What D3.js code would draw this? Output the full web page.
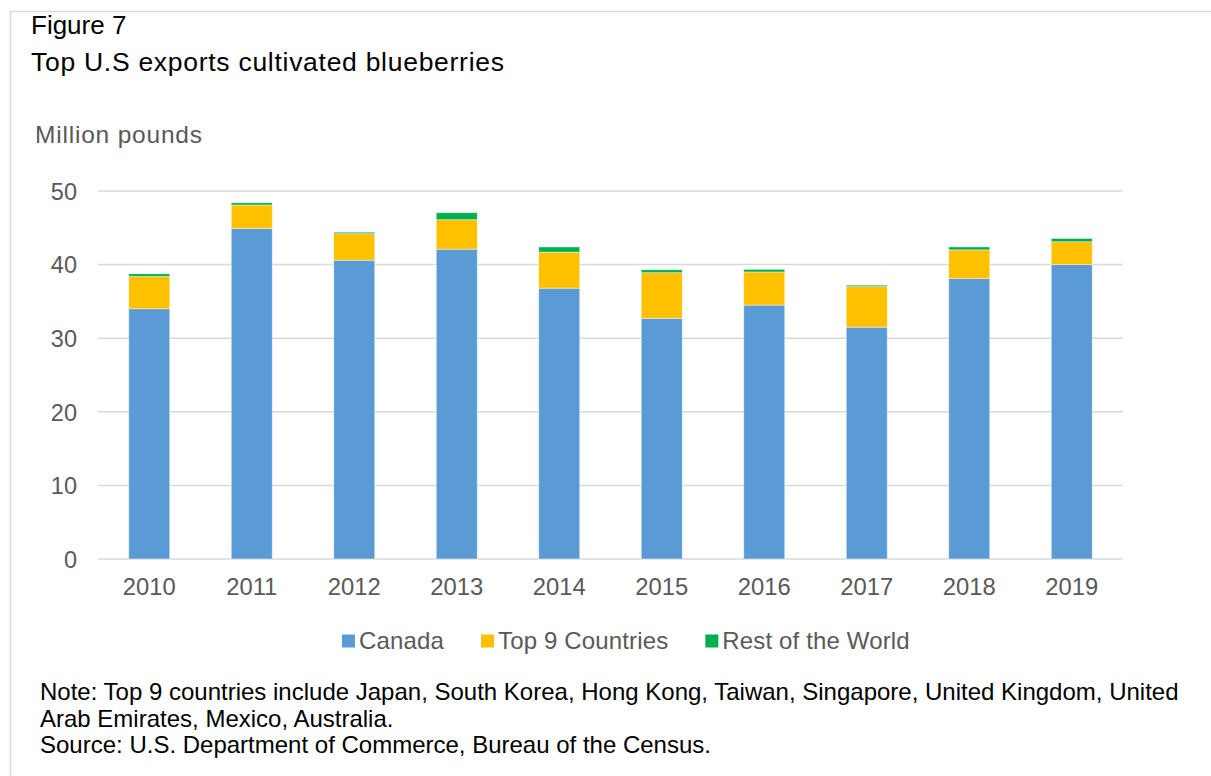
<!DOCTYPE html>
<html>
<head>
<meta charset="utf-8">
<script src="https://cdn.jsdelivr.net/npm/d3@7"></script>
<style>
  html, body { margin: 0; padding: 0; background: #fff; }
  svg { display: block; font-family: "Liberation Sans", Arial, sans-serif; }
</style>
</head>
<body>
<svg id="chart" width="1211" height="776"></svg>
<script>
const years = ["2010","2011","2012","2013","2014","2015","2016","2017","2018","2019"];
const canada = [34.0, 44.9, 40.6, 42.1, 36.8, 32.7, 34.5, 31.5, 38.1, 40.0];
const top9 = [4.4, 3.2, 3.6, 4.0, 4.9, 6.2, 4.5, 5.5, 3.9, 3.1];
const restOfWorld = [0.35, 0.3, 0.2, 0.95, 0.7, 0.4, 0.35, 0.2, 0.4, 0.45];
const seriesNames = ["Canada", "Top 9 Countries", "Rest of the World"];
const seriesColors = ["#5B9BD5", "#FFC000", "#00B050"];
const yTicks = [0, 10, 20, 30, 40, 50];
const noteLines = [
  "Note: Top 9 countries include Japan, South Korea, Hong Kong, Taiwan, Singapore, United Kingdom, United",
  "Arab Emirates, Mexico, Australia.",
  "Source: U.S. Department of Commerce, Bureau of the Census."
];

const svg = d3.select("#chart");
const W = 1211, H = 776;

// frame
svg.append("path")
  .attr("d", `M${W},11.5 H10.5 V${H}`)
  .attr("fill", "none").attr("stroke", "#d9d9d9").attr("stroke-width", 1.5);

// titles
svg.append("text").attr("x", 31).attr("y", 34)
  .attr("font-size", 26).attr("fill", "#000").text("Figure 7");
svg.append("text").attr("x", 31).attr("y", 71)
  .attr("font-size", 26.5).attr("letter-spacing", 0.72).attr("fill", "#000")
  .text("Top U.S exports cultivated blueberries");
svg.append("text").attr("x", 35).attr("y", 143)
  .attr("font-size", 24.5).attr("letter-spacing", 0.8).attr("fill", "#595959")
  .text("Million pounds");

const x = d3.scaleBand().domain(years).range([98, 1123])
  .paddingInner(0.6).paddingOuter(0.3);
const y = d3.scaleLinear().domain([0, 50]).range([559, 191]);

// grid
svg.append("g").selectAll("line").data(yTicks).join("line")
  .attr("x1", 98).attr("x2", 1123)
  .attr("y1", d => y(d)).attr("y2", d => y(d))
  .attr("stroke", "#d9d9d9").attr("stroke-width", 1.5);

// y axis labels
const yAxis = d3.axisLeft(y).tickValues(yTicks).tickSize(0).tickPadding(0);
const gy = svg.append("g").attr("transform", "translate(77,0)").call(yAxis);
gy.select(".domain").remove();
gy.selectAll("text").attr("font-size", 23.5).attr("fill", "#595959")
  .attr("font-family", "Liberation Sans, Arial, sans-serif").attr("dy", "0.35em");

// bars
const rows = years.map((yr, i) => ({year: yr, c: canada[i], t: top9[i], r: restOfWorld[i]}));
const stack = d3.stack().keys(["c", "t", "r"]);
const stacked = stack(rows);
svg.append("g").selectAll("g").data(stacked).join("g")
  .attr("fill", (d, i) => seriesColors[i])
  .selectAll("rect").data(d => d).join("rect")
  .attr("x", d => x(d.data.year))
  .attr("width", x.bandwidth())
  .attr("y", d => y(d[1]))
  .attr("height", d => y(d[0]) - y(d[1]))
  .attr("stroke", "rgba(255,255,255,0.55)").attr("stroke-width", 0.8);

// x axis labels
const xAxis = d3.axisBottom(x).tickSize(0).tickPadding(0);
const gx = svg.append("g").attr("transform", "translate(0,595)").call(xAxis);
gx.select(".domain").remove();
gx.selectAll("text").attr("font-size", 23.8).attr("fill", "#595959")
  .attr("font-family", "Liberation Sans, Arial, sans-serif").attr("dy", 0)
  .attr("y", 0);

// legend
const legend = svg.append("g");
let lx = 342;
seriesNames.forEach((name, i) => {
  legend.append("rect").attr("x", lx).attr("y", 634.5).attr("width", 13).attr("height", 13)
    .attr("fill", seriesColors[i]);
  const t = legend.append("text").attr("x", lx + 17).attr("y", 648.5)
    .attr("font-size", 24).attr("letter-spacing", 0.15).attr("fill", "#595959").text(name);
  lx += 17 + t.node().getComputedTextLength() + 37;
});

// notes
svg.append("g").selectAll("text").data(noteLines).join("text")
  .attr("x", 40).attr("y", (d, i) => 700 + i * 26.5)
  .attr("font-size", 24).attr("fill", "#000").text(d => d);
</script>
</body>
</html>
